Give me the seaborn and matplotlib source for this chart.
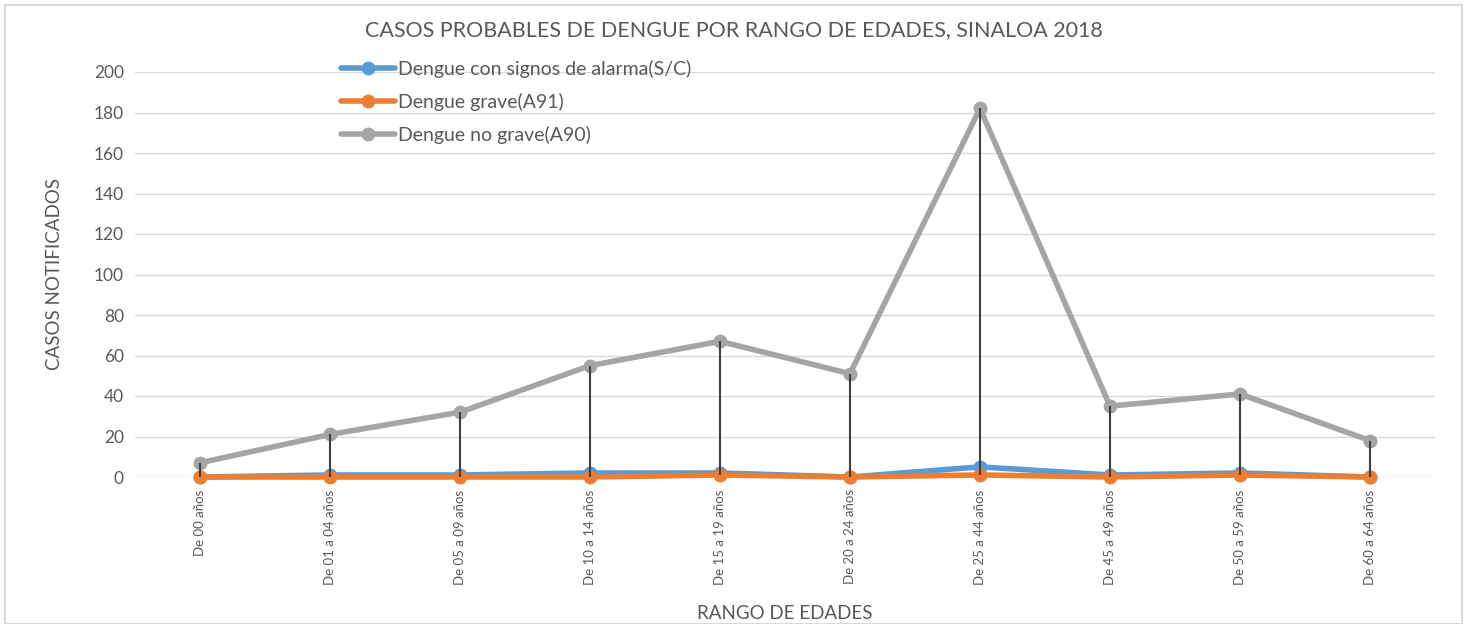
import numpy as np
import pandas as pd
import matplotlib
matplotlib.use("Agg")
import matplotlib.pyplot as plt
import seaborn as sns
from matplotlib.patches import Rectangle

categories = ["De 00 años", "De 01 a 04 años", "De 05 a 09 años", "De 10 a 14 años",
              "De 15 a 19 años", "De 20 a 24 años", "De 25 a 44 años", "De 45 a 49 años",
              "De 50 a 59 años", "De 60 a 64 años"]
alarma = [0, 1, 1, 2, 2, 0, 5, 1, 2, 0]
grave = [0, 0, 0, 0, 1, 0, 1, 0, 1, 0]
no_grave = [7, 21, 32, 55, 67, 51, 182, 35, 41, 18]
series_names = ["Dengue con signos de alarma(S/C)", "Dengue grave(A91)", "Dengue no grave(A90)"]
colors = ["#5B9BD5", "#ED7D31", "#A5A5A5"]
y_ticks = [0, 20, 40, 60, 80, 100, 120, 140, 160, 180, 200]

sns.set_theme(style="white")
plt.rcParams['font.family'] = ['Lato', 'DejaVu Sans']
text_color = "#595959"

fig = plt.figure(figsize=(14.67, 6.24), dpi=100)
ax = fig.add_axes([135/1467, 147/624, 1300/1467, 405/624])

pos = np.arange(len(categories))
df = pd.DataFrame({"pos": pos, series_names[0]: alarma, series_names[1]: grave, series_names[2]: no_grave})

for name, col in zip(series_names, colors):
    sns.lineplot(data=df, x="pos", y=name, ax=ax, color=col, linewidth=4,
                 marker="o", markersize=10, markeredgewidth=0, label=name, zorder=3,
                 clip_on=False)

# high-low drop lines
vals = np.array([alarma, grave, no_grave])
ax.vlines(pos, vals.min(axis=0), vals.max(axis=0), color="#404040", linewidth=1.5, zorder=5,
          clip_on=False)

ax.set_xlim(-0.5, len(categories) - 0.5)
ax.set_ylim(0, 200)
ax.set_yticks(y_ticks)
ax.set_yticklabels([str(t) for t in y_ticks], fontsize=12.5, color=text_color)
ax.set_xticks(pos)
ax.set_xticklabels(categories, rotation=90, fontsize=9.5, color=text_color)
ax.tick_params(axis="both", length=0, pad=8)
ax.tick_params(axis="x", pad=9)
ax.yaxis.grid(True, color="#D9D9D9", linewidth=1)
ax.xaxis.grid(False)
for s in ax.spines.values():
    s.set_visible(False)

ax.set_xlabel("RANGO DE EDADES", fontsize=13.5, color=text_color)
ax.xaxis.set_label_coords(0.5, -0.315)
ax.set_ylabel("CASOS NOTIFICADOS", fontsize=13.5, color=text_color)
ax.yaxis.set_label_coords(-0.055, 0.5)

fig.text(0.5, 1 - 30/624, "CASOS PROBABLES DE DENGUE POR RANGO DE EDADES, SINALOA 2018",
         ha="center", va="center", fontsize=15.5, color=text_color)

leg = ax.legend(loc="upper left", bbox_to_anchor=(333/1467, 1 - 52/624),
                bbox_transform=fig.transFigure, frameon=False, fontsize=14,
                handlelength=2.8, handletextpad=0.15, labelspacing=0.78, borderaxespad=0)
for t in leg.get_texts():
    t.set_color(text_color)

fig.patches.append(Rectangle((5/1467, 0), 1457/1467, 1 - 5/624, transform=fig.transFigure,
                             fill=False, edgecolor="#D9D9D9", linewidth=1.5))

fig.savefig("out.png", dpi=100)
